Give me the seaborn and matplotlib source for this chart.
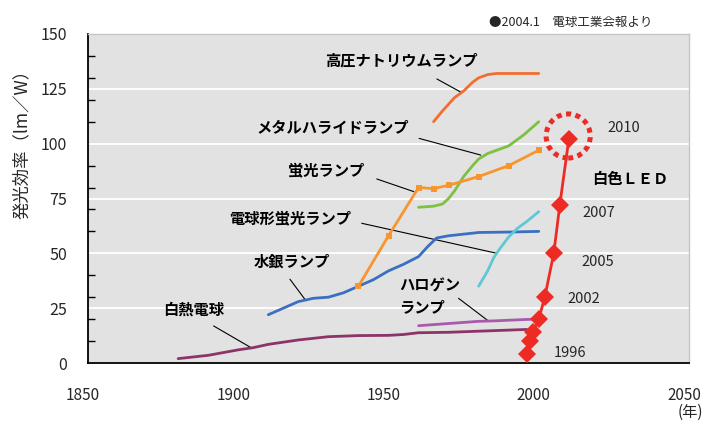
import matplotlib
matplotlib.use("Agg")
import matplotlib.pyplot as plt
from matplotlib.patches import Ellipse
from matplotlib.ticker import MultipleLocator
from matplotlib.transforms import ScaledTranslation
import seaborn as sns
import pandas as pd

# ---- data: luminous efficacy (lm/W) by year ----
incand_years = [1880, 1890, 1900, 1905, 1910, 1920, 1930, 1940, 1950, 1955, 1960, 1970, 1980, 1990, 1996]
incand_vals = [2, 3.5, 6, 7, 8.5, 10.5, 12, 12.5, 12.6, 13, 13.8, 14, 14.5, 15, 15.3]

mercury_years = [1910, 1915, 1920, 1925, 1930, 1935, 1940, 1945, 1950, 1955, 1960, 1963, 1966, 1970, 1980, 1990, 2000]
mercury_vals = [22, 25, 28, 29.5, 30, 32, 35, 38, 42, 45, 48.5, 53, 57, 58, 59.5, 59.7, 60]

fluor_years = [1940, 1950, 1960, 1965, 1970, 1980, 1990, 2000]
fluor_vals = [35, 58, 80, 79.5, 81, 85, 90, 97]

mh_years = [1960, 1965, 1968, 1970, 1972, 1975, 1978, 1980, 1983, 1986, 1990, 1995, 2000]
mh_vals = [71, 71.5, 72.5, 75, 78.5, 85, 90, 93, 95.5, 97, 99, 104, 110]

hps_years = [1965, 1968, 1970, 1972, 1975, 1978, 1980, 1983, 1986, 1990, 2000]
hps_vals = [110, 115, 118, 121, 124, 128, 130, 131.5, 132, 132, 132]

cfl_years = [1980, 1983, 1985, 1987, 1990, 1993, 1996, 2000]
cfl_vals = [35, 42, 48, 52, 57.5, 61.5, 64.5, 69]

halogen_years = [1960, 1965, 1970, 1975, 1980, 1985, 1990, 1995, 1999]
halogen_vals = [17, 17.5, 18, 18.5, 19, 19.2, 19.5, 19.8, 20]

led_years = [1996, 1997, 1998, 2000, 2002, 2005, 2007, 2010]
led_vals = [4, 10, 14, 20, 30, 50, 72, 102]
led_year_labels = ["1996", "2002", "2005", "2007", "2010"]

series = [
    ("白熱電球", incand_years, incand_vals, "#8c3468", None),
    ("水銀ランプ", mercury_years, mercury_vals, "#3b6fc1", None),
    ("ハロゲンランプ", halogen_years, halogen_vals, "#a75cab", None),
    ("電球形蛍光ランプ", cfl_years, cfl_vals, "#5ec8d5", None),
    ("メタルハライドランプ", mh_years, mh_vals, "#7cc142", None),
    ("高圧ナトリウムランプ", hps_years, hps_vals, "#f26e2e", None),
    ("蛍光ランプ", fluor_years, fluor_vals, "#f7952f", "s"),
]

# label text positions (year, lm/W) and leader lines (from, to)
labels = {
    "高圧ナトリウムランプ": ((1954.3, 138.1), (1966.1, 129.5), (1974.2, 123.4)),
    "メタルハライドランプ": ((1931.5, 107.1), (1960.2, 102.4), (1980.7, 94.8)),
    "蛍光ランプ": ((1929.3, 88.0), (1946.1, 83.9), (1958.5, 78.1)),
    "電球形蛍光ランプ": ((1917.2, 66.1), (1941.1, 63.7), (1986.1, 50.0)),
    "水銀ランプ": ((1917.8, 46.2), (1917.2, 38.2), (1922.2, 29.0)),
    "白熱電球": ((1885.2, 24.2), (1891.8, 16.9), (1904.5, 6.8)),
}

sns.set_style("white")
plt.rcParams["font.family"] = ["Noto Sans CJK JP", "DejaVu Sans"]

fig = plt.figure(figsize=(7.05, 4.21), dpi=100)
ax = fig.add_axes([88 / 705, 58 / 421, 601 / 705, 329 / 421])
ax.set_facecolor("#e2e2e2")

for name, xs, ys, color, marker in series:
    df = pd.DataFrame({"year": xs, "eff": ys})
    sns.lineplot(data=df, x="year", y="eff", ax=ax, color=color, lw=2.0,
                 marker=marker, markersize=5, markeredgewidth=0,
                 estimator=None, sort=False, zorder=3)

led_df = pd.DataFrame({"year": led_years, "eff": led_vals})
sns.lineplot(data=led_df, x="year", y="eff", ax=ax, color="#ee2a25", lw=2.0,
             marker="D", markersize=9, markeredgewidth=0,
             estimator=None, sort=False, zorder=4)

# dotted ring highlighting the latest LED value
ax.add_patch(Ellipse((led_years[-1] - 0.2, led_vals[-1] + 1.5), 14.7, 20.1,
                     fill=False, edgecolor="#ee2a25", lw=3.6,
                     linestyle=(0, (1.0, 0.9)), zorder=5))

bold = dict(fontsize=11, fontweight="bold", color="black")
for text, (tpos, p0, p1) in labels.items():
    ax.text(tpos[0], tpos[1], text, ha="center", va="center", **bold)
    ax.plot([p0[0], p1[0]], [p0[1], p1[1]], color="black", lw=0.8, zorder=2)

ax.text(1953.5, 30.5, "ハロゲン\nランプ", ha="left", va="center",
        linespacing=1.45, **bold)
ax.plot([1973.3, 1983.1], [29.5, 19.3], color="black", lw=0.8, zorder=2)

ax.text(2030.5, 83.8, "白色ＬＥＤ", ha="center", va="center", **bold)

year_pos = [(2004.9, 4.4), (2009.4, 29.0), (2014.2, 46.2), (2014.7, 68.5), (2022.7, 107.0)]
for lab, (x, y) in zip(led_year_labels, year_pos):
    ax.text(x, y, lab, ha="left", va="center", fontsize=10.5)

# axes, ticks and grid
ax.set_xlim(1850, 2050)
ax.set_ylim(0, 150)
ax.set_xticks(range(1850, 2051, 50))
ax.xaxis.set_minor_locator(MultipleLocator(10))
ax.set_yticks(range(0, 151, 25))
ax.yaxis.set_minor_locator(MultipleLocator(10))
ax.tick_params(axis="x", which="both", direction="in", length=5, width=1,
               color="black", pad=17, labelsize=11)
ax.tick_params(axis="y", which="major", length=0, pad=15, labelsize=11.5)
ax.tick_params(axis="y", which="minor", direction="in", length=5, width=1,
               color="black", left=True)
ax.grid(axis="y", which="major", color="white", lw=1.3)
ax.set_axisbelow(True)
ax.set_xlabel("")
ax.set_ylabel("")
for side in ("left", "bottom"):
    ax.spines[side].set_color("black")
    ax.spines[side].set_linewidth(1.3)
for side in ("top", "right"):
    ax.spines[side].set_color("#c6c6c6")
    ax.spines[side].set_linewidth(1.0)

# year labels sit slightly left of their ticks
shift = ScaledTranslation(-5 / 100, 0, fig.dpi_scale_trans)
for lbl in ax.get_xticklabels():
    lbl.set_transform(lbl.get_transform() + shift)

fig.text(22 / 705, 1 - 140 / 421, "発光効率（lm／W）", rotation=90,
         ha="center", va="center", fontsize=12.5)
fig.text(703 / 705, 1 - 412 / 421, "(年)", ha="right", va="center", fontsize=11)
fig.text(571 / 705, 1 - 22 / 421, "●2004.1　電球工業会報より", ha="center",
         va="center", fontsize=9)

fig.savefig("out.png", dpi=100)
